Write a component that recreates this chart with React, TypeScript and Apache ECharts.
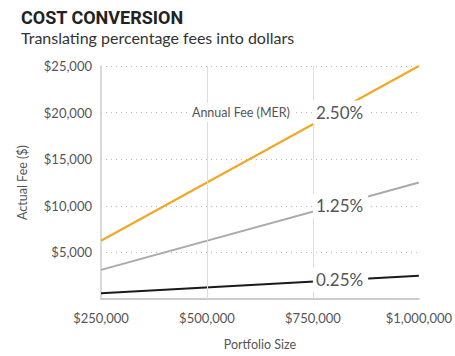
import React, { useEffect, useRef } from "react";
import * as echarts from "echarts";

const portfolio = [250000, 1000000];
const fee250 = [6250, 25000];
const fee125 = [3125, 12500];
const fee025 = [625, 2500];
const lineNames = ["2.50%", "1.25%", "0.25%"];
const lineColors = ["#f4a623", "#aaaaaa", "#1a1a1a"];
const labelPoints: [number, number, string][] = [
  [750000, 20000, "2.50%"],
  [750000, 10000, "1.25%"],
  [750000, 2100, "0.25%"],
];
const annotation: [number, number, string] = [750000, 20000, "Annual Fee (MER)"];
const verticalGrid = [500000, 750000];

const FONT = "Lato";

export default function App() {
  const ref = useRef<HTMLDivElement>(null);
  useEffect(() => {
    if (!ref.current) return;
    const chart = echarts.init(ref.current, undefined, { renderer: "svg" });
    const series: any[] = [fee250, fee125, fee025].map((vals, i) => ({
      type: "line",
      name: lineNames[i],
      data: portfolio.map((x, j) => [x, vals[j]]),
      symbol: "none",
      lineStyle: { color: lineColors[i], width: 2 },
      z: 3,
    }));
    series.push({
      type: "line",
      data: [],
      markLine: {
        silent: true,
        symbol: "none",
        label: { show: false },
        lineStyle: { color: "#dddddd", type: "solid", width: 1 },
        data: verticalGrid.map((v) => ({ xAxis: v })),
      },
      z: 1,
    });
    chart.setOption({
      animation: false,
      title: {
        text: "COST CONVERSION",
        subtext: "Translating percentage fees into dollars",
        left: 16,
        top: 3,
        itemGap: 3,
        textStyle: {
          fontFamily: "Roboto",
          fontWeight: "bold",
          fontSize: 18,
          color: "#222222",
        },
        subtextStyle: {
          fontFamily: FONT,
          fontSize: 16,
          color: "#333333",
        },
      },
      grid: { left: 101, right: 36, top: 66, bottom: 56 },
      xAxis: {
        type: "value",
        min: 250000,
        max: 1000000,
        interval: 250000,
        name: "Portfolio Size",
        nameLocation: "middle",
        nameGap: 39,
        nameTextStyle: { fontFamily: FONT, fontSize: 12.5, color: "#555555" },
        axisLine: { show: true, lineStyle: { color: "#cccccc", width: 2 } },
        axisTick: { show: false },
        splitLine: { show: false },
        axisLabel: {
          margin: 12,
          fontFamily: FONT,
          fontSize: 13,
          color: "#555555",
          formatter: (v: number) => "$" + v.toLocaleString("en-US"),
        },
      },
      yAxis: {
        type: "value",
        min: 0,
        max: 25000,
        interval: 5000,
        name: "Actual Fee ($)",
        nameLocation: "middle",
        nameGap: 72,
        nameTextStyle: { fontFamily: FONT, fontSize: 12.5, color: "#555555" },
        axisLine: { show: true, lineStyle: { color: "#cccccc", width: 1.5 } },
        axisTick: { show: false },
        splitLine: { show: true, lineStyle: { color: "#bbbbbb", type: [1, 4], width: 1 } },
        axisLabel: {
          margin: 9,
          fontFamily: FONT,
          fontSize: 13,
          color: "#555555",
          formatter: (v: number) => (v === 0 ? "" : "$" + v.toLocaleString("en-US")),
        },
      },
      series,
    });

    const graphics: any[] = labelPoints.map((p) => {
      const [px, py] = chart.convertToPixel({ gridIndex: 0 }, [p[0], p[1]]) as number[];
      return {
        type: "text",
        x: px,
        y: py,
        z: 100,
        style: {
          text: p[2],
          fontFamily: FONT,
          fontSize: 17,
          fill: "#555555",
          backgroundColor: "#ffffff",
          padding: [4, 5, 3, 3],
          align: "left",
          verticalAlign: "middle",
        },
      };
    });
    const [ax, ay] = chart.convertToPixel({ gridIndex: 0 }, [annotation[0], annotation[1]]) as number[];
    graphics.push({
      type: "text",
      x: ax - 20,
      y: ay,
      z: 100,
      style: {
        text: annotation[2],
        fontFamily: FONT,
        fontSize: 12.5,
        fill: "#555555",
        backgroundColor: "#ffffff",
        padding: [3, 3, 3, 3],
        align: "right",
        verticalAlign: "middle",
      },
    });
    chart.setOption({ graphic: graphics });
    return () => chart.dispose();
  }, []);
  return <div ref={ref} style={{ width: 455, height: 356, position: "absolute", left: 0, top: 0 }} />;
}
